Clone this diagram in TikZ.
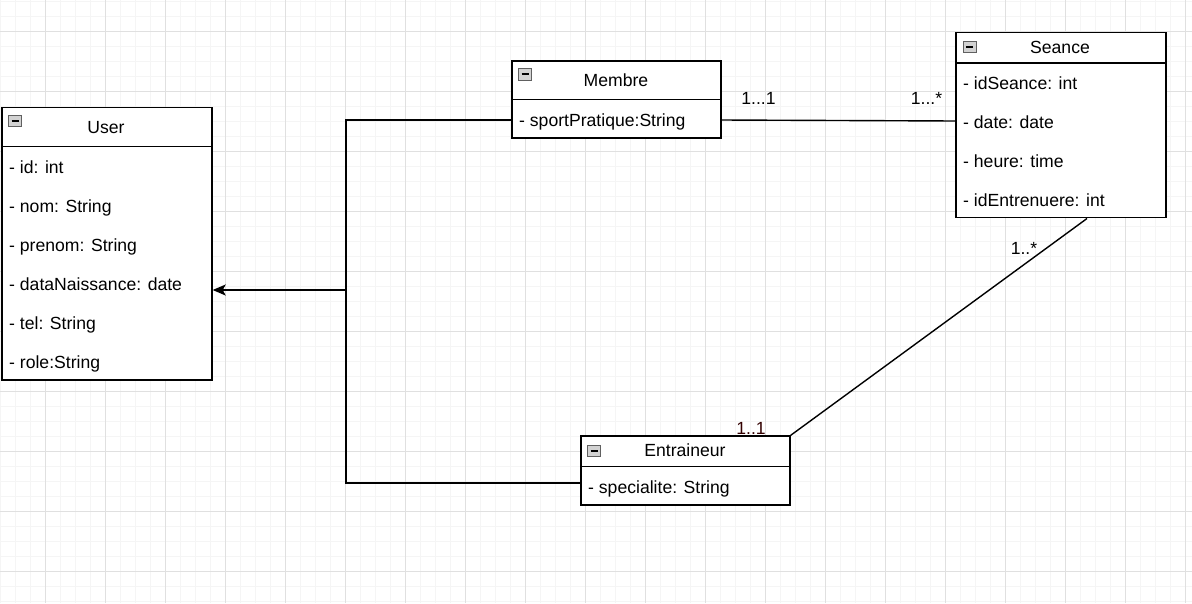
\documentclass[tikz,border=0pt]{standalone}
\usepackage{fontspec}
\setmainfont{Liberation Sans}
\usetikzlibrary{arrows.meta}
\tikzset{
  x=1pt,y=-1pt,
  box/.style={draw=black,line width=1.4pt,fill=white},
  sep/.style={draw=black,line width=1.4pt},
  txt/.style={anchor=base west,inner sep=0pt,font=\fontsize{17.6}{20}\selectfont},
  hdr/.style={anchor=base,inner sep=0pt,font=\fontsize{17.6}{20}\selectfont},
  mult/.style={anchor=base,inner sep=0pt,font=\fontsize{17.6}{20}\selectfont},
  conn/.style={draw=black,line width=1.4pt},
  icon/.style={draw=gray!75!black,fill=gray!35,line width=0.8pt},
}
\newcommand{\classicon}[2]{%
  \draw[icon] (#1,#2) rectangle ++(13,11.5);
  \draw[black,line width=1.6pt] (#1+3,#2+5.75) -- ++(7,0);
}
\begin{document}
\begin{tikzpicture}
\useasboundingbox (0,0) rectangle (1192,603);
\fill[white] (0,0) rectangle (1192,603);
% grid
\foreach \gx in {0,15,...,1190} \draw[gray!8,line width=0.8pt] (\gx,0) -- (\gx,603);
\foreach \gy in {1,16,...,602} \draw[gray!8,line width=0.8pt] (0,\gy) -- (1192,\gy);
\foreach \gx in {45,105,...,1190} \draw[gray!24,line width=0.8pt] (\gx,0) -- (\gx,603);
\foreach \gy in {31,91,...,602} \draw[gray!24,line width=0.8pt] (0,\gy) -- (1192,\gy);

% User
\node[box,minimum width=210,minimum height=272.5,inner sep=0pt] (user) at (107,243.6) {};
\draw[sep] (2,146.5) -- (212,146.5);
\classicon{8.5}{115}
\node[hdr] (userh) at (106,133.5) {User};
\node[txt] (u1) at (9,173) {- id: int};
\node[txt] (u2) at (9,212) {- nom: String};
\node[txt] (u3) at (9,251) {- prenom: String};
\node[txt] (u4) at (9,290) {- dataNaissance: date};
\node[txt] (u5) at (9,329) {- tel: String};
\node[txt] (u6) at (9,368) {- role:String};

% Membre
\node[box,minimum width=209,minimum height=77,inner sep=0pt] (membre) at (616.5,99.5) {};
\draw[sep] (512,99.5) -- (721,99.5);
\classicon{518.5}{68.5}
\node[hdr] (membreh) at (616,86.5) {Membre};
\node[txt] (m1) at (519,126) {- sportPratique:String};

% Seance
\node[box,minimum width=210,minimum height=185.5,inner sep=0pt] (seance) at (1061,125) {};
\draw[sep] (956,63) -- (1166,63);
\classicon{963}{41}
\node[hdr] (seanceh) at (1060,53) {Seance};
\node[txt] (s1) at (963,89) {- idSeance: int};
\node[txt] (s2) at (963,128) {- date: date};
\node[txt] (s3) at (963,167) {- heure: time};
\node[txt] (s4) at (963,206) {- idEntrenuere: int};

% Entraineur
\node[box,minimum width=209,minimum height=69,inner sep=0pt] (entr) at (685.5,470.5) {};
\draw[sep] (581,466.5) -- (790,466.5);
\classicon{587.5}{445}
\node[hdr] (entrh) at (685,456.5) {Entraineur};
\node[txt] (e1) at (588,493) {- specialite: String};

% connectors
\coordinate (junc) at (346,290);
\coordinate (jtop) at (346,120);
\coordinate (jbot) at (346,483);
\draw[conn,-{Stealth[length=13pt,width=11pt,inset=3pt]}] (junc) -- (user.east |- junc);
\draw[conn] (membre.west |- jtop) -- (jtop) -- (jbot) -- (entr.west |- jbot);
\coordinate (mr) at (721,120);
\coordinate (sl) at (956,121);
\draw[conn] (mr) -- (sl);
\coordinate (sb) at (1087,218.5);
\draw[conn] (sb) -- (entr.north east);

% multiplicities
\node[mult] (l1) at (758.5,104) {1...1};
\node[mult] (l2) at (926.5,104) {1...*};
\node[mult] (l3) at (1024,254.5) {1..*};
\node[mult,text=black!80!red] (l4) at (751,434.5) {1..1};
\end{tikzpicture}
\end{document}
